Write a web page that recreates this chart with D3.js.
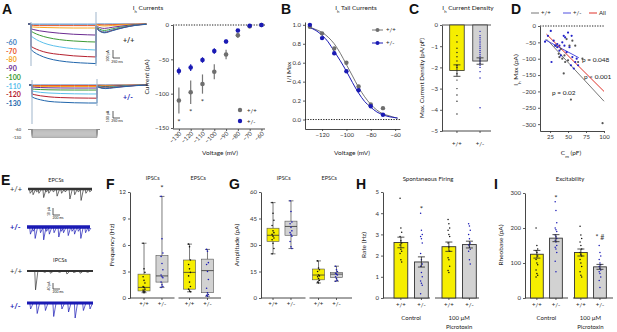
<!DOCTYPE html>
<html><head><meta charset="utf-8">
<script src="https://cdn.jsdelivr.net/npm/d3@7"></script>
<style>body{margin:0;background:#fff}svg{display:block}</style>
</head><body><svg id="c" width="617" height="332"></svg>
<script>
// ================= DATA =================
// Panel A traces
const stepVolts = [-60,-70,-80,-90,-100,-110,-120,-130];
const stepColors = ['#3f7fbf','#e8562a','#f5a623','#6b2c91','#3d9b35','#5bc0eb','#b5202e','#2166ac'];
const stepTimes = [0,100,300,600,1000,1500,2000,2300];
const wtStep = [
  [-2,-2,-2,-2,-2,-2,-2,-2],
  [-15,-18,-20,-20,-20,-20,-20,-20],
  [-35,-38,-42,-45,-48,-50,-50,-50],
  [-60,-70,-85,-100,-115,-128,-135,-138],
  [-90,-110,-140,-170,-195,-212,-222,-225],
  [-150,-175,-215,-255,-285,-308,-320,-325],
  [-280,-300,-330,-360,-380,-398,-408,-412],
  [-320,-350,-390,-430,-460,-480,-490,-495]];
const hetStep = [
  [0,0,0,0,0,0,0,0],
  [-6,-6,-6,-6,-6,-6,-6,-6],
  [-15,-17,-18,-18,-19,-19,-19,-19],
  [-25,-28,-32,-35,-37,-38,-38,-38],
  [-50,-53,-57,-60,-62,-63,-63,-63],
  [-75,-82,-92,-100,-106,-110,-112,-112],
  [-112,-122,-135,-148,-157,-162,-164,-165],
  [-150,-165,-185,-205,-215,-222,-225,-225]];
const tailTimes = [0,60,300,600,1000,1400,1800];
const wtTail = [
  [0,0,0,0,0,0,0],
  [-5,-8,-12,-8,-4,-2,0],
  [-10,-15,-25,-18,-10,-4,0],
  [-20,-35,-55,-40,-22,-8,0],
  [-30,-50,-80,-60,-32,-12,-2],
  [-35,-60,-95,-70,-38,-15,-3],
  [-40,-65,-105,-78,-42,-16,-3],
  [-40,-70,-110,-82,-45,-18,-4]];
const hetTail = [
  [0,0,0,0,0,0,0],
  [-2,-3,-5,-3,-2,-1,0],
  [-5,-7,-10,-7,-4,-2,0],
  [-8,-12,-18,-13,-7,-3,0],
  [-12,-18,-27,-20,-11,-4,0],
  [-15,-22,-33,-25,-14,-5,0],
  [-18,-26,-40,-30,-17,-6,0],
  [-20,-30,-45,-35,-20,-8,0]];
const protoLabels = ['-60','-130'];

// Panel A: Ih current-voltage
const ihVolts = [-130,-120,-110,-100,-90,-80,-70,-60];
const ihWT = [-110,-98,-86,-68,-43,-15,-2,0];
const ihWTerr = [19,17,14,11,7,4,1,0];
const ihHet = [-67,-62,-51,-38,-24,-8,-1,0];
const ihHetErr = [5,5,4,4,3,2,1,0];
const ihStarVolts = [-130,-120,-110];
const ihXTicks = [-130,-120,-110,-100,-90,-80,-70,-60];
const ihYTicks = [0,-50,-100,-150];

// Panel B: tail currents
const tailVolts = [-130,-120,-110,-100,-90,-80,-70];
const tailWT = [0.98,0.91,0.75,0.60,0.35,0.16,0.12];
const tailHet = [1.0,0.86,0.70,0.51,0.31,0.14,0.05];
const fitVolts = [-131,-125,-120,-115,-110,-105,-100,-95,-90,-85,-80,-75,-70,-65,-60,-58];
const fitWT = [0.98,0.95,0.92,0.87,0.80,0.70,0.58,0.46,0.34,0.24,0.16,0.10,0.06,0.04,0.02,0.015];
const fitHet = [0.975,0.94,0.89,0.82,0.72,0.62,0.51,0.39,0.28,0.19,0.13,0.08,0.05,0.03,0.02,0.015];
const tailXTicks = [-120,-100,-80,-60];
const tailYTicks = [0,0.2,0.4,0.6,0.8,1.0];

// Panel C: current density
const genotypes = ['+/+','+/-'];
const densMean = [-2.15,-1.7];
const densSem = [0.27,0.15];
const densWTpts = [-0.5,-0.8,-1.1,-1.3,-1.5,-1.7,-1.9,-2.0,-2.3,-2.6,-3.0,-3.3,-3.6,-4.2];
const densHetPts = [-0.3,-0.5,-0.6,-0.7,-0.8,-0.9,-1.0,-1.1,-1.2,-1.3,-1.4,-1.5,-1.6,-1.7,-1.8,-1.9,-2.0,-2.2,-2.5,-3.9];
const densTicks = [0,-1,-2,-3,-4,-5];

// Panel D: Ih max vs Cm
const dWT = [[33,-60],[37,-85],[40,-70],[42,-100],[44,-145],[46,-110],[48,-40],[50,-105],[52,-60],[54,-225],[56,-45],[60,-60],[64,-110],[70,-100],[98,-297],[38,-95],[45,-90]];
const dHet = [[18,-48],[22,-30],[26,-15],[27,-110],[30,-45],[32,-60],[35,-55],[38,-75],[40,-90],[42,-50],[44,-30],[45,-60],[46,-35],[48,-80],[50,-20],[52,-65],[54,-120],[55,-30],[56,-95],[58,-130],[60,-110],[62,-100],[64,-120],[35,-65],[38,-60]];
const fitLineWT = [[20,-40],[100,-230]];
const fitLineHet = [[18,-42],[65,-97]];
const fitLineAll = [[20,-25],[100,-200]];
const pLabels = ['p = 0.048','p < 0.001','p = 0.02'];
const dXTicks = [25,50,75,100];
const dYTicks = [0,-50,-100,-150,-200,-250,-300];

// Panel E traces (event time ms, amplitude pA)
const epscWTev = [[60,3],[150,4],[260,2],[330,3],[480,6],[560,2],[640,3],[780,2],[900,5],[1040,3],[1150,2],[1300,7],[1450,4],[1560,2],[1650,8],[1800,3],[1920,2]];
const epscHetEv = [[100,5],[180,3],[250,8],[420,4],[520,9],[610,3],[700,5],[850,4],[1000,7],[1080,3],[1150,4],[1300,6],[1420,3],[1500,5],[1620,3],[1700,8],[1850,4],[1950,3]];
const ipscWTev = [[250,126],[500,8],[700,15],[950,8],[1200,20],[1400,10],[1600,15],[1800,8]];
const ipscHetEv = [[100,40],[300,70],[550,50],[800,90],[1050,40],[1250,60],[1450,100],[1700,50],[1900,40]];

// Panel F: frequency (min, q1, median, q3, max)
const synGroups = ['IPSCs','EPSCs'];
const fIpscWT = [0.6,0.8,1.2,2.7,6.2];
const fIpscHet = [1.2,1.8,2.5,4.8,11.5];
const fEpscWT = [0.7,1.0,2.9,4.3,6.1];
const fEpscHet = [0.2,0.6,3.1,4.4,5.5];
const fIpscWTpts = [6.2,3.3,2.9,2.4,2.0,1.7,1.3,1.2,1.0,0.9,0.8,0.7,0.7,0.6];
const fIpscHetPts = [11.5,6.7,5.1,4.7,3.9,3.2,2.6,2.4,2.3,1.8,1.5,1.3,1.2];
const fEpscWTpts = [6.1,5.8,4.3,3.8,3.3,2.9,2.5,1.8,1.3,1.0,0.8,0.7];
const fEpscHetPts = [5.5,5.3,4.0,3.8,3.0,2.1,1.1,0.6,0.4,0.3,0.2];
const fTicks = [0,3,6,9,12];

// Panel G: amplitude
const gIpscWT = [25,32,35.5,39.5,54];
const gIpscHet = [28,35.5,40.5,43.5,55];
const gEpscWT = [8.5,10.3,13,16.4,21];
const gEpscHet = [9.5,11.5,13.5,14.5,18];
const gIpscWTpts = [54,48,44,41,38,37,36,35,34,33,31,28,25];
const gIpscHetPts = [55,49,43,42,40,38,37,36,35,32,29,28];
const gEpscWTpts = [21,17,16,15,13,12.5,12,11,10,9,8.5];
const gEpscHetPts = [18,16,15,14,13.5,13,12,11,10,9.5];
const gTicks = [0,15,30,45,60];

// Panel H: spontaneous firing
const conditions = ['Control','Picrotoxin'];
const hMean = [2.62,1.70,2.42,2.52];
const hSem = [0.25,0.24,0.22,0.16];
const hPts = [
  [4.7,3.3,3.1,2.9,2.7,2.6,2.5,2.3,2.2,2.1,1.8,1.7],
  [4.0,3.2,3.0,2.9,2.8,2.6,2.1,1.8,1.6,1.5,1.2,1.0,0.8,0.7,0.6,0.2],
  [3.7,3.5,3.3,3.2,3.0,2.9,2.6,2.4,2.2,1.9,1.8,1.5,1.3,1.2],
  [3.5,3.4,3.2,3.0,2.8,2.6,2.5,2.4,2.3,2.2,1.8,1.6]];
const hTicks = [0,1,2,3,4,5];

// Panel I: excitability (rheobase)
const iMean = [125,171,130,89];
const iSem = [11,10,10,7];
const iPts = [
  [200,150,140,135,130,120,110,100,95,80,70,65,60],
  [275,250,215,200,195,190,180,175,170,165,160,150,145,140,130,105,75],
  [205,180,170,160,150,140,130,125,120,110,100,90,75,65,60],
  [150,130,120,110,100,95,90,85,80,75,70,60,50,30]];
const iTicks = [0,100,200,300];

// ================= DRAW =================
const svg = d3.select('#c');
const FONT = "Lato, 'Open Sans', sans-serif";
const YEL = '#f6ee00', GRY = '#d2d2d2', BLUE = '#1a1ab4';
svg.append('rect').attr('width',617).attr('height',332).attr('fill','#fff');

function txt(x,y,s,o={}){
  const t = svg.append('text').attr('x',x).attr('y',y).text(s)
    .attr('font-family',o.font||FONT).attr('font-size',o.size||7)
    .attr('fill',o.fill||'#222').attr('text-anchor',o.anchor||'start');
  if(o.bold) t.attr('font-weight','bold');
  if(o.rot) t.attr('transform',`rotate(-90,${x},${y})`);
  return t;
}
function ihText(x,y,rest,o={}){
  const t = txt(x,y,'I',o);
  t.append('tspan').text('h').attr('font-size',(o.size||7)*0.65).attr('baseline-shift','sub');
  t.append('tspan').text(rest);
  return t;
}
function styleAxis(g){
  g.attr('font-family',FONT).attr('font-size',6);
  g.selectAll('.domain').attr('stroke','#333').attr('stroke-width',0.9);
  g.selectAll('line').attr('stroke','#333').attr('stroke-width',0.8);
  g.selectAll('text').attr('fill','#333');
  return g;
}
function leftAxis(y,x,ticks,fmt){
  return styleAxis(svg.append('g').attr('transform',`translate(${x},0)`)
    .call(d3.axisLeft(y).tickValues(ticks).tickSize(2).tickSizeOuter(0).tickFormat(fmt||d3.format('d')).tickPadding(2)));
}
function bottomAxis(x,y,ticks,fmt){
  return styleAxis(svg.append('g').attr('transform',`translate(0,${y})`)
    .call(d3.axisBottom(x).tickValues(ticks).tickSize(2).tickSizeOuter(0).tickFormat(fmt||d3.format('d')).tickPadding(2)));
}
function line(x1,y1,x2,y2,c,w,dash){
  const l = svg.append('line').attr('x1',x1).attr('y1',y1).attr('x2',x2).attr('y2',y2)
    .attr('stroke',c||'#333').attr('stroke-width',w||0.9);
  if(dash) l.attr('stroke-dasharray',dash);
  return l;
}

// ---- Panel letters ----
[['A',2,14],['B',281,14],['C',409,14],['D',511,14],['E',1,185],['F',106,189],['G',229,189],['H',356,189],['I',494,189]]
  .forEach(([s,x,y])=>txt(x,y,s,{size:14,bold:true,font:'Liberation Sans, Arial, sans-serif',fill:'#111'}));

// ---- Panel A traces ----
function drawTraces(base, x0, stepArr, tailArr){
  const tx = d3.scaleLinear().domain([0,2300]).range([x0, x0+65]);
  const iy = d3.scaleLinear().domain([0,-100]).range([base, base+8]);
  const mono = d3.line().x(d=>d[0]).y(d=>d[1]).curve(d3.curveMonotoneX);
  const lin = d3.line().x(d=>d[0]).y(d=>d[1]);
  stepVolts.forEach((v,i)=>{
    const c = stepColors[i];
    const st = stepTimes.map((t,j)=>[tx(t), iy(stepArr[i][j])]);
    const tl = tailTimes.map((t,j)=>[tx(2300)+t/35.7, iy(tailArr[i][j])]);
    const g = svg.append('g').attr('fill','none').attr('stroke',c).attr('stroke-width',1);
    g.append('path').attr('d',lin([[x0-3,iy(0)],[x0,iy(0)],st[0]]));
    g.append('path').attr('d',mono(st));
    g.append('path').attr('d',lin([st[st.length-1],tl[0]]));
    g.append('path').attr('d',mono(tl));
  });
}
drawTraces(24, 31, wtStep, wtTail);
drawTraces(85, 32, hetStep, hetTail);
line(31,22,31,66,'#a8bccf',1.1); line(96,12,96,66,'#a8bccf',1.1);
line(32,80,32,124,'#a8bccf',1.1); line(97,79,97,106,'#a8bccf',1.1);
stepVolts.forEach((v,i)=>txt(6,45+i*8.7,String(v),{size:7,bold:true,fill:stepColors[i]}));
txt(123,43,'+/+',{size:7,bold:true,fill:'#333'});
txt(123,100,'+/-',{size:7,bold:true,fill:BLUE});
[[50,58,63],[111,118,122]].forEach(([a,b,t])=>{
  line(113,a,113,b,'#333',0.8); line(113,b,120,b,'#333',0.8);
  txt(109,(a+b)/2+2,'100 pA',{size:3.6,anchor:'middle',rot:true});
  txt(117,t,'250 ms',{size:3.6,anchor:'middle'});
});
const pv = d3.scaleLinear().domain([-60,-130]).range([129.5,137.5]);
stepVolts.forEach(v=>{
  svg.append('path').attr('fill','none').attr('stroke','#8c8c8c').attr('stroke-width',0.7)
    .attr('d',`M28,${pv(-60)}H32V${pv(v)}H97V${pv(-60)}H100`);
});
txt(21,130.5,protoLabels[0],{size:4,anchor:'end'});
txt(21,139,protoLabels[1],{size:4,anchor:'end'});

// ---- Panel A: IV plot ----
const xIh = d3.scaleLinear().domain([-135,-57]).range([173,265]);
const yIh = d3.scaleLinear().domain([-150,0]).range([128,25]);
ihText(148,10,' Currents',{size:6.5,anchor:'middle'});
leftAxis(yIh,173,ihYTicks);
const axA = bottomAxis(xIh,129,ihXTicks);
axA.select('.domain').attr('d','M173,0H265');
axA.selectAll('text').attr('transform','rotate(-45)').attr('text-anchor','end').attr('dx','-0.3em').attr('dy','0.2em');
line(173,yIh(0),265,yIh(0),'#222',1,'1.3,1.3');
txt(149,77,'Current (pA)',{size:6.5,anchor:'middle',rot:true});
txt(220,155,'Voltage (mV)',{size:6.5,anchor:'middle'});
ihVolts.forEach((v,i)=>{
  line(xIh(v),yIh(ihWT[i]-ihWTerr[i]),xIh(v),yIh(ihWT[i]+ihWTerr[i]),'#777',1.2);
  line(xIh(v),yIh(ihHet[i]-ihHetErr[i]),xIh(v),yIh(ihHet[i]+ihHetErr[i]),BLUE,1.2);
});
svg.append('g').selectAll('circle').data(ihVolts).join('circle')
  .attr('cx',d=>xIh(d)).attr('cy',(d,i)=>yIh(ihWT[i])).attr('r',2.3).attr('fill','#6e6e6e');
svg.append('g').selectAll('circle').data(ihVolts).join('circle')
  .attr('cx',d=>xIh(d)).attr('cy',(d,i)=>yIh(ihHet[i])).attr('r',2.3).attr('fill',BLUE);
ihStarVolts.forEach(v=>{
  const i = ihVolts.indexOf(v);
  txt(xIh(v),yIh(ihWT[i]-ihWTerr[i])+11,'*',{size:8,anchor:'middle',fill:'#444'});
});
svg.append('circle').attr('cx',240).attr('cy',110).attr('r',2.2).attr('fill','#6e6e6e');
svg.append('circle').attr('cx',240).attr('cy',121).attr('r',2.2).attr('fill',BLUE);
txt(247,112.5,'+/+',{size:6}); txt(247,123.5,'+/-',{size:6});

// ---- Panel B ----
const xB = d3.scaleLinear().domain([-134,-56]).range([305,400]);
const yB = d3.scaleLinear().domain([-0.1,1.03]).range([129,22]);
ihText(356,10,' Tail Currents',{size:6.5,anchor:'middle'});
leftAxis(yB,305,tailYTicks,d3.format('.1f'));
bottomAxis(xB,129,tailXTicks);
line(305,yB(0),400,yB(0),'#222',1,'1.3,1.3');
txt(291,72,'I/I Max',{size:6.5,anchor:'middle',rot:true});
txt(352,155,'Voltage (mV)',{size:6.5,anchor:'middle'});
const fitLine = d3.line().x((d,i)=>xB(fitVolts[i])).y(d=>yB(d)).curve(d3.curveMonotoneX);
svg.append('path').attr('d',fitLine(fitWT)).attr('fill','none').attr('stroke','#777').attr('stroke-width',1);
svg.append('path').attr('d',fitLine(fitHet)).attr('fill','none').attr('stroke',BLUE).attr('stroke-width',1);
svg.append('g').selectAll('circle').data(tailVolts).join('circle')
  .attr('cx',d=>xB(d)).attr('cy',(d,i)=>yB(tailWT[i])).attr('r',2.2).attr('fill','#6e6e6e');
svg.append('g').selectAll('circle').data(tailVolts).join('circle')
  .attr('cx',d=>xB(d)).attr('cy',(d,i)=>yB(tailHet[i])).attr('r',2.2).attr('fill',BLUE);
line(372,30,383,30,'#777',1); svg.append('circle').attr('cx',377.5).attr('cy',30).attr('r',2).attr('fill','#6e6e6e');
line(372,43,383,43,BLUE,1); svg.append('circle').attr('cx',377.5).attr('cy',43).attr('r',2).attr('fill',BLUE);
txt(386,32,'+/+',{size:6}); txt(386,45,'+/-',{size:6});

// ---- Panel C ----
const yC = d3.scaleLinear().domain([-5,0]).range([131,25]);
const xC = d3.scaleBand().domain(genotypes).range([446,491]).paddingInner(0.37).paddingOuter(0.16);
ihText(468,10,' Current Density',{size:6.5,anchor:'middle'});
leftAxis(yC,442,densTicks);
const axC = bottomAxis(xC,131,[]);
axC.select('.domain').attr('d','M442,0H491');
genotypes.forEach(g=>{ line(xC(g)+xC.bandwidth()/2,131,xC(g)+xC.bandwidth()/2,133,'#333',0.8); txt(xC(g)+xC.bandwidth()/2,146,g,{size:6,anchor:'middle'}); });
line(442,yC(0),491,yC(0),'#444',0.9);
txt(424,78,'Max. Current Density (pA/pF)',{size:6.2,anchor:'middle',rot:true});
genotypes.forEach((g,i)=>{
  svg.append('rect').attr('x',xC(g)).attr('y',yC(0)).attr('width',xC.bandwidth()).attr('height',yC(densMean[i])-yC(0))
    .attr('fill',i===0?YEL:GRY).attr('stroke','#333').attr('stroke-width',0.8);
});
genotypes.forEach((g,i)=>{
  const pts = i===0?densWTpts:densHetPts, cx = xC(g)+xC.bandwidth()/2;
  svg.append('g').selectAll('circle').data(pts).join('circle').attr('cx',cx).attr('cy',d=>yC(d)).attr('r',0.7).attr('fill',i===0?'#222':BLUE);
  const a = yC(densMean[i]-densSem[i]), b = yC(densMean[i]+densSem[i]);
  line(cx,a,cx,b,'#222',0.8); line(cx-3.5,a,cx+3.5,a,'#222',0.8); line(cx-3.5,b,cx+3.5,b,'#222',0.8);
});

// ---- Panel D ----
const xD = d3.scaleLinear().domain([11,100]).range([540,604]);
const yD = d3.scaleLinear().domain([-321,0]).range([131,26]);
leftAxis(yD,540,dYTicks);
bottomAxis(xD,131,dXTicks);
line(540,yD(0),604,yD(0),'#222',1,'1.3,1.3');
ihText(518,70,' Max (pA)',{size:6.5,anchor:'middle',rot:true});
const cm = txt(571,155,'C',{size:6.5,anchor:'middle'});
cm.append('tspan').text('m').attr('font-size',4.5).attr('baseline-shift','sub'); cm.append('tspan').text(' (pF)');
[[fitLineWT,'#777'],[fitLineHet,'#5050e0'],[fitLineAll,'#e0322a']].forEach(([l,c])=>
  line(xD(l[0][0]),yD(l[0][1]),xD(l[1][0]),yD(l[1][1]),c,1));
svg.append('g').selectAll('circle').data(dWT).join('circle').attr('cx',d=>xD(d[0])).attr('cy',d=>yD(d[1])).attr('r',1.1).attr('fill','#555');
svg.append('g').selectAll('circle').data(dHet).join('circle').attr('cx',d=>xD(d[0])).attr('cy',d=>yD(d[1])).attr('r',1.1).attr('fill','#2222c8');
txt(582,62,pLabels[0],{size:6.5}); txt(584,78.5,pLabels[1],{size:6.5}); txt(552,94.5,pLabels[2],{size:6.5});
line(531,13,539,13,'#777',1); txt(541,15,'+/+',{size:6});
line(563,13,571,13,'#5050e0',1); txt(573,15,'+/-',{size:6});
line(589,13,597,13,'#e0322a',1); txt(599,15,'All',{size:6});

// ---- Panel E ----
function eTrace(base,x0,x1,events,pxPerPA,color,band){
  const tx = d3.scaleLinear().domain([0,2000]).range([x0,x1]);
  line(x0,base,x1,base,color,band);
  events.forEach(([t,a])=>{
    svg.append('path').attr('fill','none').attr('stroke',color).attr('stroke-width',0.7)
      .attr('d',`M${tx(t)-0.5},${base}L${tx(t)+0.3},${base+a*pxPerPA}L${tx(t)+2.5},${base+1}`);
  });
}
txt(56,182,'EPCSs',{size:5.5,anchor:'middle'});
txt(60,262,'IPCSs',{size:5.5,anchor:'middle'});
txt(10,192,'+/+',{size:7.5,fill:'#333'});
txt(10,230,'+/-',{size:7.5,fill:BLUE,bold:true});
txt(10,274,'+/+',{size:7.5,fill:'#333'});
txt(10,309,'+/-',{size:7.5,fill:BLUE,bold:true});
eTrace(189,28,92,epscWTev,1.43,'#333',2.6);
eTrace(227,27,90,epscHetEv,1.43,BLUE,3.4);
eTrace(271,27,93,ipscWTev,0.15,'#333',1.8);
eTrace(303,27,93,ipscHetEv,0.15,BLUE,2.8);
[[208,215,'10 pA',219],[283,289,'40 pA',293]].forEach(([a,b,s,t])=>{
  line(53,a,53,b,'#333',0.8); line(53,b,60,b,'#333',0.8);
  txt(50,(a+b)/2,s,{size:3.4,anchor:'middle',rot:true});
  txt(58,t,'200 ms',{size:3.4,anchor:'middle'});
});

// ---- Box plots F, G ----
function boxPanel(x0,x1,y,ticks,innerOff,stats,pts,ylab,labX){
  const outer = d3.scaleBand().domain(synGroups).range([x0,x1]);
  leftAxis(y,x0,ticks);
  synGroups.forEach((g,gi)=>{
    const ox = outer(g);
    line(ox+(gi?3:0),298,ox+outer.bandwidth()-(gi?0:1),298,'#333',0.9);
    txt(ox+outer.bandwidth()/2,180,g,{size:5.5,anchor:'middle'});
    const inner = d3.scaleBand().domain(genotypes).range([ox+innerOff,ox+innerOff+30]).paddingInner(0.33);
    genotypes.forEach((ge,k)=>{
      const idx = gi*2+k, s = stats[idx], bx = inner(ge), bw = inner.bandwidth(), cx = bx+bw/2;
      line(cx,298,cx,300,'#333',0.8);
      txt(cx,306,ge,{size:6,anchor:'middle'});
      line(cx,y(s[0]),cx,y(s[4]),'#444',0.7);
      line(cx-2.5,y(s[0]),cx+2.5,y(s[0]),'#444',0.7); line(cx-2.5,y(s[4]),cx+2.5,y(s[4]),'#444',0.7);
      svg.append('rect').attr('x',bx).attr('y',y(s[3])).attr('width',bw).attr('height',y(s[1])-y(s[3]))
        .attr('fill',k?GRY:YEL).attr('stroke','#555').attr('stroke-width',0.6);
      line(bx,y(s[2]),bx+bw,y(s[2]),'#333',0.8);
      svg.append('g').selectAll('circle').data(pts[idx]).join('circle')
        .attr('cx',(d,j)=>cx+(j%3-1)*0.9).attr('cy',d=>y(d)).attr('r',0.8).attr('fill',k?BLUE:'#111');
    });
  });
  txt(labX,245,ylab,{size:6.5,anchor:'middle',rot:true});
  return outer;
}
const yF = d3.scaleLinear().domain([0,12]).range([298,192]);
boxPanel(130,221,yF,fTicks,8,[fIpscWT,fIpscHet,fEpscWT,fEpscHet],[fIpscWTpts,fIpscHetPts,fEpscWTpts,fEpscHetPts],'Frequency (Hz)',114);
txt(162,191,'*',{size:8,anchor:'middle',fill:'#333'});
const yG = d3.scaleLinear().domain([0,60]).range([298,192]);
boxPanel(261,352,yG,gTicks,6,[gIpscWT,gIpscHet,gEpscWT,gEpscHet],[gIpscWTpts,gIpscHetPts,gEpscWTpts,gEpscHetPts],'Amplitude (pA)',239);

// ---- Bar panels H, I ----
function barPanel(x0,x1,y,ticks,innerOff,bw,means,sems,pts,ylab,labX,title,titleX){
  const outer = d3.scaleBand().domain(conditions).range([x0,x1]);
  leftAxis(y,x0,ticks);
  txt(titleX,181,title,{size:6,anchor:'middle'});
  txt(labX,245,ylab,{size:6.5,anchor:'middle',rot:true});
  const cxs = [];
  conditions.forEach((c,ci)=>{
    const ox = outer(c);
    line(ox+(ci?4:0),298,ox+outer.bandwidth()-(ci?0:1),298,'#333',0.9);
    const inner = d3.scaleBand().domain(genotypes).range([ox+innerOff,ox+innerOff+bw*2.45]).paddingInner(0.33);
    const mid = ox+innerOff+bw*1.225;
    if(ci===0) txt(mid,320,'Control',{size:6,anchor:'middle'});
    else { txt(mid,320,'100 µM',{size:6,anchor:'middle'}); txt(mid,329,'Picrotoxin',{size:6,anchor:'middle'}); }
    genotypes.forEach((ge,k)=>{
      const idx = ci*2+k, bx = inner(ge), w = inner.bandwidth(), cx = bx+w/2;
      cxs.push(cx);
      line(cx,298,cx,300,'#333',0.8);
      txt(cx,307,ge,{size:6,anchor:'middle'});
      svg.append('rect').attr('x',bx).attr('y',y(means[idx])).attr('width',w).attr('height',298-y(means[idx]))
        .attr('fill',k?GRY:YEL).attr('stroke','#333').attr('stroke-width',0.9);
      svg.append('g').selectAll('circle').data(pts[idx]).join('circle')
        .attr('cx',(d,j)=>cx+(j%3-1)*0.8).attr('cy',d=>y(d)).attr('r',0.75).attr('fill',k?BLUE:'#111');
      const a = y(means[idx]-sems[idx]), b = y(means[idx]+sems[idx]);
      line(cx,a,cx,b,'#222',0.8); line(cx-3.5,a,cx+3.5,a,'#222',0.8); line(cx-3.5,b,cx+3.5,b,'#222',0.8);
    });
  });
  return cxs;
}
const yH = d3.scaleLinear().domain([0,5]).range([298,192]);
const hx = barPanel(383,479,yH,hTicks,11,14,hMean,hSem,hPts,'Rate (Hz)',366,'Spontaneous Firing',428);
txt(hx[1],yH(4.25)+4,'*',{size:8,anchor:'middle',fill:'#333'});
const yI = d3.scaleLinear().domain([0,300]).range([298,193]);
const ix = barPanel(525,613,yI,iTicks,5.5,13,iMean,iSem,iPts,'Rheobase (pA)',503,'Excitability',570);
txt(ix[1],yI(290)+4,'*',{size:8,anchor:'middle',fill:'#333'});
txt(ix[3],yI(178)+4,'* #',{size:7,anchor:'middle',fill:'#333'});
</script></body></html>
